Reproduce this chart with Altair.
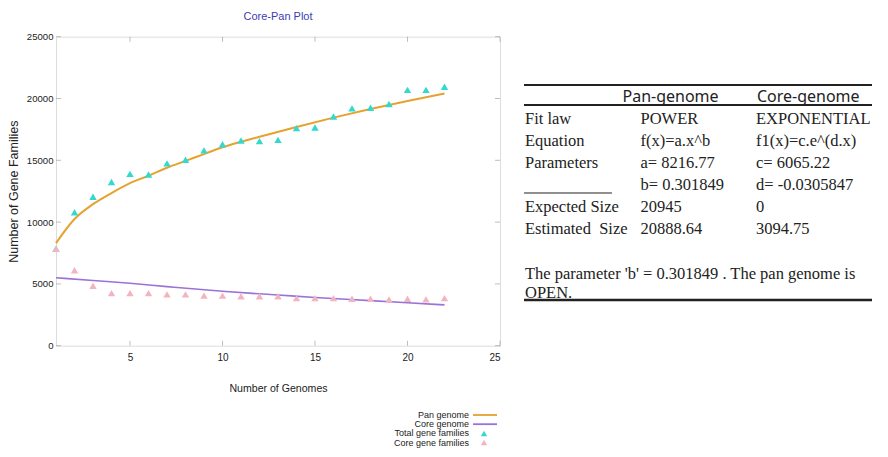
import altair as alt
import pandas as pd

# ---------------- data ----------------
genomes = [1, 2, 3, 4, 5, 6, 7, 8, 9, 10, 11, 12, 13, 14, 15, 16, 17, 18, 19, 20, 21, 22]
total_families = [7850, 10800, 12050, 13250, 13900, 13850, 14750, 15050, 15800, 16300, 16600,
                  16550, 16650, 17600, 17650, 18550, 19200, 19250, 19550, 20700, 20700, 20950]
core_families = [7850, 6100, 4850, 4250, 4250, 4250, 4150, 4150, 4050, 4050, 4000,
                 4000, 4000, 3850, 3850, 3850, 3800, 3800, 3750, 3800, 3750, 3850]

# fitted curves as drawn in the picture (sampled by eye)
pan_curve_x = [1, 2, 3, 4, 5, 6, 7, 8, 9, 10, 12, 14, 16, 18, 20, 22]
pan_curve_y = [8300, 10250, 11450, 12350, 13150, 13750, 14400, 14950, 15500, 16050,
               16900, 17700, 18450, 19150, 19800, 20400]
core_curve_x = [1, 3, 5, 7, 10, 13, 15, 18, 20, 22]
core_curve_y = [5500, 5270, 5050, 4780, 4400, 4100, 3900, 3650, 3480, 3300]

x_ticks = [5, 10, 15, 20, 25]
y_ticks = [0, 5000, 10000, 15000, 20000, 25000]

legend_labels = ["Pan genome", "Core genome", "Total gene families", "Core gene families"]

table_cols = ["label", "pan", "core"]
table_rows = ["header", "fit", "equation", "params", "params2", "expected", "estimated"]
row_names = ["Fit law", "Equation", "Parameters", "", "Expected Size", "Estimated\u00a0 Size"]
pan_values = ["POWER", "f(x)=a.x^b", "a= 8216.77", "b= 0.301849", "20945", "20888.64"]
core_values = ["EXPONENTIAL", "f1(x)=c.e^(d.x)", "c= 6065.22", "d= -0.0305847", "0", "3094.75"]
header_pan = "Pan-genome"
header_core = "Core-genome"
conclusion = "The parameter 'b' = 0.301849 . The pan genome is\nOPEN."

# ---------------- styles ----------------
ORANGE = "#e6a22e"
PURPLE = "#9a72d9"
CYAN = "#33d8cf"
PINK = "#f2b5c0"
FRAME = "#a3a3a3"
TXT = "#222222"

W, H = 444, 309

x_scale = alt.Scale(domain=[1, 25], nice=False, zero=False)
y_scale = alt.Scale(domain=[0, 25000], nice=False)

x_enc = alt.X("genome:Q", scale=x_scale,
              axis=alt.Axis(values=x_ticks, title="Number of Genomes", grid=False, ticks=False,
                            tickSize=0, domain=False, labelFontSize=10, labelPadding=7,
                            labelColor=TXT, titleFontSize=10.6, titleFontWeight="normal",
                            titleColor=TXT, titlePadding=21, labelFont="Liberation Sans",
                            titleFont="Liberation Sans", format="d"))
y_enc = alt.Y("count:Q", scale=y_scale,
              axis=alt.Axis(values=y_ticks, title="Number of Gene Families", grid=False, ticks=False,
                            tickSize=0, domain=False, labelFontSize=9.6, labelPadding=3,
                            labelColor=TXT, titleFontSize=12.5, titleFontWeight="normal",
                            titleColor=TXT, titlePadding=6, labelFont="Liberation Sans",
                            titleFont="Liberation Sans", format="d"))

pan_line = alt.Chart(pd.DataFrame({"genome": pan_curve_x, "count": pan_curve_y})).mark_line(
    color=ORANGE, strokeWidth=2, interpolate="monotone").encode(x=x_enc, y=y_enc)
core_line = alt.Chart(pd.DataFrame({"genome": core_curve_x, "count": core_curve_y})).mark_line(
    color=PURPLE, strokeWidth=1.6, interpolate="monotone").encode(x=x_enc, y=y_enc)

pts = pd.DataFrame({"genome": genomes, "total": total_families, "core": core_families})
total_pts = alt.Chart(pts).mark_point(shape="triangle-up", filled=True, size=55, opacity=1,
                                      color=CYAN).encode(
    x=x_enc, y=alt.Y("total:Q", scale=y_scale))
core_pts = alt.Chart(pts).mark_point(shape="triangle-up", filled=True, size=55, opacity=1,
                                     color=PINK).encode(
    x=x_enc, y=alt.Y("core:Q", scale=y_scale))

# inward tick marks on all four borders (gnuplot style)
xt = pd.DataFrame({"genome": x_ticks})
yt = pd.DataFrame({"count": y_ticks})
tick_bottom = alt.Chart(xt).mark_tick(orient="vertical", size=5, thickness=1, color=FRAME,
                                      yOffset=-2.5).encode(x=alt.X("genome:Q", scale=x_scale),
                                                           y=alt.datum(0))
tick_top = alt.Chart(xt).mark_tick(orient="vertical", size=5, thickness=1, color=FRAME,
                                   yOffset=2.5).encode(x=alt.X("genome:Q", scale=x_scale),
                                                       y=alt.datum(25000))
tick_left = alt.Chart(yt).mark_tick(orient="horizontal", size=5, thickness=1, color=FRAME,
                                    xOffset=2.5).encode(y=alt.Y("count:Q", scale=y_scale),
                                                        x=alt.datum(1))
tick_right = alt.Chart(yt).mark_tick(orient="horizontal", size=5, thickness=1, color=FRAME,
                                     xOffset=-2.5).encode(y=alt.Y("count:Q", scale=y_scale),
                                                          x=alt.datum(25))

plot = alt.layer(pan_line, core_line, total_pts, core_pts,
                 tick_bottom, tick_top, tick_left, tick_right)

# ---------------- legend (label left of symbol) ----------------
legend_y = alt.Y("label:N", axis=None,
                 scale=alt.Scale(type="point", domain=legend_labels, range=[378.3, 405.9], padding=0))
legend_color = alt.Color("label:N", legend=None,
                         scale=alt.Scale(domain=legend_labels, range=[ORANGE, PURPLE, CYAN, PINK]))
leg_df = pd.DataFrame({"label": legend_labels})
leg_text = alt.Chart(leg_df).mark_text(align="right", baseline="middle", font="Liberation Sans",
                                       fontSize=9, color=TXT).encode(
    y=legend_y, x=alt.value(413), text="label:N")
leg_lines = alt.Chart(pd.DataFrame({"label": legend_labels[:2]})).mark_rule(strokeWidth=1.8).encode(
    y=legend_y, x=alt.value(417), x2=alt.value(441), color=legend_color)
leg_pts = alt.Chart(pd.DataFrame({"label": legend_labels[2:]})).mark_point(
    shape="triangle-up", filled=True, size=40, opacity=1).encode(
    y=legend_y, x=alt.value(428), color=legend_color)
legend = alt.layer(leg_text, leg_lines, leg_pts)

# ---------------- table ----------------
table_x = alt.X("col:N", axis=None,
                scale=alt.Scale(type="point", domain=table_cols, range=[469, 700], padding=0))
table_y = alt.Y("row:N", axis=None,
                scale=alt.Scale(type="point", domain=table_rows, range=[60.3, 192.3], padding=0))

cells = []
for r, a, b, c in zip(table_rows[1:], row_names, pan_values, core_values):
    cells += [{"row": r, "col": "label", "text": a},
              {"row": r, "col": "pan", "text": b},
              {"row": r, "col": "core", "text": c}]
cells_df = pd.DataFrame(cells)

body_font = dict(font="Liberation Serif", fontSize=16.5, color=TXT, align="left", baseline="middle")
head_font = dict(font="Noto Sans", fontSize=16, color=TXT, align="left", baseline="middle")

t_cells = alt.Chart(cells_df).mark_text(**body_font).encode(x=table_x, y=table_y, text="text:N")
t_head_pan = alt.Chart(pd.DataFrame({"row": ["header"], "col": ["pan"], "text": [header_pan]})).mark_text(
    dx=-18, **head_font).encode(x=table_x, y=table_y, text="text:N")
t_head_core = alt.Chart(pd.DataFrame({"row": ["header"], "col": ["core"], "text": [header_core]})).mark_text(
    dx=1, **head_font).encode(x=table_x, y=table_y, text="text:N")
t_concl = alt.Chart(pd.DataFrame({"col": ["label"], "text": [conclusion]})).mark_text(
    lineBreak="\n", lineHeight=19, **body_font).encode(x=table_x, y=alt.value(237), text="text:N")

one = pd.DataFrame({"k": [0]})
rule_top = alt.Chart(one).mark_rule(color=TXT, strokeWidth=2).encode(
    x=alt.value(468), x2=alt.value(826), y=alt.value(48.3))
rule_head = alt.Chart(one).mark_rule(color=TXT, strokeWidth=2).encode(
    x=alt.value(468), x2=alt.value(826), y=alt.value(68.3))
rule_short = alt.Chart(one).mark_rule(color=TXT, strokeWidth=1).encode(
    x=alt.value(468), x2=alt.value(556), y=alt.value(156.3))
rule_bottom = alt.Chart(one).mark_rule(color=TXT, strokeWidth=2.5).encode(
    x=alt.value(468), x2=alt.value(826), y=alt.value(263.3))

table = alt.layer(t_cells, t_head_pan, t_head_core, t_concl,
                  rule_top, rule_head, rule_short, rule_bottom)

chart = alt.layer(plot, legend, table).resolve_scale(
    x="independent", y="independent", color="independent"
).properties(
    width=W, height=H,
    title=alt.Title("Core-Pan Plot", font="Liberation Sans", fontSize=11, fontWeight="normal",
                    color="#3b3bb3", anchor="middle", offset=10),
    autosize=alt.AutoSizeParams(type="none"),
    padding={"left": 48, "top": 28.7, "right": 372, "bottom": 103},
).configure_view(stroke=FRAME, strokeWidth=1).configure(background="white")

chart.save("out.html", embed_options={"renderer": "svg", "actions": False})
